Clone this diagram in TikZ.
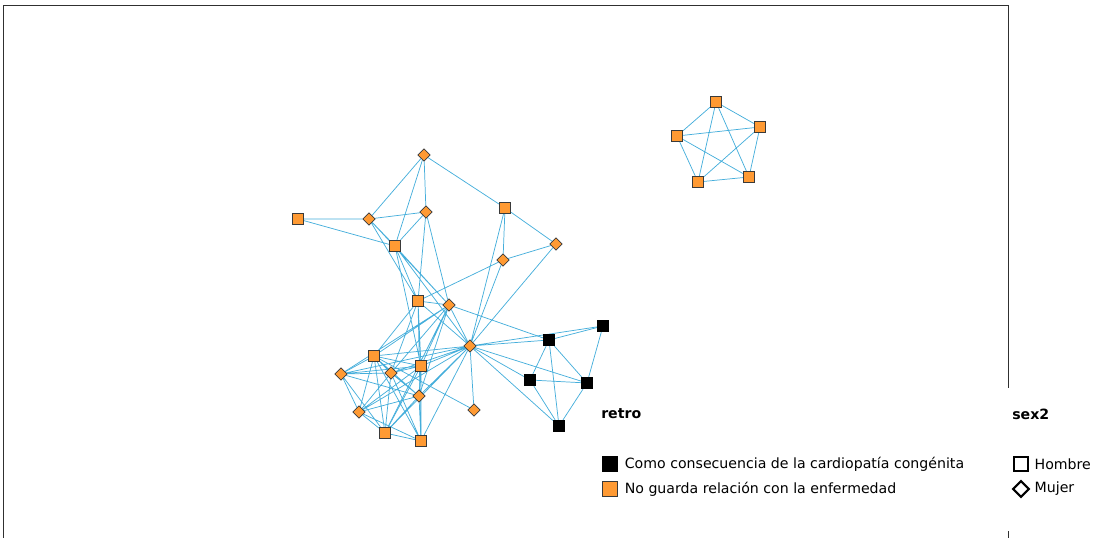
\documentclass[tikz,border=0pt]{standalone}
\usepackage{fontspec}
\setmainfont{DejaVu Sans}
\usepackage{tikz}
\usetikzlibrary{positioning,shapes.geometric,backgrounds}
\definecolor{nodeorange}{HTML}{FF9A33}
\definecolor{edgeblue}{HTML}{45AEDB}
\definecolor{rimgray}{HTML}{3A3A3A}
\definecolor{framegray}{HTML}{303030}
\tikzset{
  sqnode/.style={rectangle,draw=rimgray,fill=nodeorange,inner sep=0pt,minimum size=8.6pt,line width=0.6pt},
  dmnode/.style={diamond,draw=rimgray,fill=nodeorange,inner sep=0pt,minimum size=9.5pt,line width=0.5pt},
  blknode/.style={rectangle,fill=black,inner sep=0pt,minimum size=8.8pt},
  linkline/.style={draw=edgeblue,line width=0.55pt},
  legtext/.style={font=\fontsize{10.6}{12}\selectfont,inner sep=0pt},
  legtitle/.style={font=\fontsize{10.6}{12}\selectfont\bfseries,inner sep=0pt,anchor=west},
}

\begin{document}
\begin{tikzpicture}[x=0.75pt,y=-0.75pt]
  \useasboundingbox (0,0) rectangle (1096,538);
  % frame, broken where the legend sits
  \draw[framegray,line width=0.75pt] (3,538) -- (3,6) -- (1008,6) -- (1008,388);
  \draw[framegray,line width=0.75pt] (1008,531) -- (1008,538);

  % main component
  \node[dmnode] (o1) at (424,155) {};
  \node[sqnode] (o2) at (298,219) {};
  \node[dmnode] (o3) at (369,219) {};
  \node[dmnode] (o4) at (426,212) {};
  \node[sqnode] (o5) at (395,246) {};
  \node[sqnode] (o6) at (505,208) {};
  \node[dmnode] (o7) at (556,244) {};
  \node[dmnode] (o8) at (503,260) {};
  \node[sqnode] (o9) at (418,301) {};
  \node[dmnode] (o10) at (449,305) {};
  \node[dmnode] (o11) at (470,346) {};
  \node[sqnode] (o12) at (374,356) {};
  \node[dmnode] (o13) at (341,374) {};
  \node[dmnode] (o14) at (391,373) {};
  \node[sqnode] (o15) at (421,366) {};
  \node[dmnode] (o16) at (419,396) {};
  \node[dmnode] (o17) at (474,410) {};
  \node[dmnode] (o18) at (359,412) {};
  \node[sqnode] (o19) at (385,433) {};
  \node[sqnode] (o20) at (421,441) {};
  \node[blknode] (b1) at (549,340) {};
  \node[blknode] (b2) at (603,326) {};
  \node[blknode] (b3) at (530,380) {};
  \node[blknode] (b4) at (587,383) {};
  \node[blknode] (b5) at (559,426) {};
  % pentagon
  \node[sqnode] (p1) at (716,102) {};
  \node[sqnode] (p2) at (760,127) {};
  \node[sqnode] (p3) at (677,136) {};
  \node[sqnode] (p4) at (749,177) {};
  \node[sqnode] (p5) at (698,182) {};

  \begin{scope}[on background layer]
    \draw[linkline] (o1)--(o3) (o1)--(o4) (o1)--(o5) (o1)--(o6) (o2)--(o3) (o2)--(o5)
      (o3)--(o4) (o3)--(o5) (o3)--(o9) (o3)--(o10) (o4)--(o5) (o4)--(o9) (o4)--(o10)
      (o5)--(o9) (o5)--(o10) (o5)--(o11) (o5)--(o15)
      (o6)--(o7) (o6)--(o8) (o6)--(o11) (o7)--(o8) (o7)--(o11) (o8)--(o9) (o8)--(o11)
      (o9)--(o10) (o9)--(o11) (o9)--(o12) (o9)--(o14) (o9)--(o15) (o9)--(o20)
      (o10)--(o11) (o10)--(o12) (o10)--(o13) (o10)--(o14) (o10)--(o15) (o10)--(o16) (o10)--(o19) (o10)--(b1);
    \draw[linkline] (o11)--(o12) (o11)--(o13) (o11)--(o14) (o11)--(o15) (o11)--(o16) (o11)--(o17)
      (o11)--(o18) (o11)--(o19) (o11)--(o20) (o11)--(b1) (o11)--(b2) (o11)--(b3) (o11)--(b4) (o11)--(b5)
      (o12)--(o13) (o12)--(o14) (o12)--(o15) (o12)--(o16) (o12)--(o17) (o12)--(o18) (o12)--(o19) (o12)--(o20)
      (o13)--(o14) (o13)--(o15) (o13)--(o16) (o13)--(o18) (o13)--(o19)
      (o14)--(o15) (o14)--(o16) (o14)--(o18) (o14)--(o19) (o14)--(o20)
      (o15)--(o16) (o15)--(o18) (o15)--(o19) (o15)--(o20) (o16)--(o18) (o16)--(o19) (o16)--(o20)
      (o18)--(o19) (o18)--(o20) (o19)--(o20);
    \draw[linkline] (b1)--(b2) (b1)--(b3) (b1)--(b4) (b1)--(b5) (b2)--(b4) (b3)--(b4) (b3)--(b5) (b4)--(b5);
    \draw[linkline] (p1)--(p2) (p1)--(p3) (p1)--(p4) (p1)--(p5) (p2)--(p3) (p2)--(p4) (p2)--(p5)
      (p3)--(p4) (p3)--(p5) (p4)--(p5);
  \end{scope}

  % legend
  \node[legtitle] (rtitle) at (601,414) {retro};
  \node[blknode,minimum size=11.5pt] (lkblack) at (610,464) {};
  \node[legtext,right=5pt of lkblack] (lkblacktxt) {Como consecuencia de la cardiopatía congénita};
  \node[rectangle,draw=rimgray,fill=nodeorange,inner sep=0pt,minimum size=11pt,line width=0.8pt] (lkorange) at (610,489) {};
  \node[legtext,right=5pt of lkorange] (lkorangetxt) {No guarda relación con la enfermedad};
  \node[legtitle] (stitle) at (1012,414) {sex2};
  \node[rectangle,draw=black,line width=1.6pt,inner sep=0pt,minimum size=10.5pt] (lkmale) at (1021,464) {};
  \node[legtext,right=4pt of lkmale] (lkmaletxt) {Hombre};
  \node[diamond,draw=black,line width=1.6pt,inner sep=0pt,minimum size=12.5pt] (lkfemale) at (1021,489) {};
  \node[legtext,right=3pt of lkfemale] (lkfemaletxt) {Mujer};
\end{tikzpicture}
\end{document}
